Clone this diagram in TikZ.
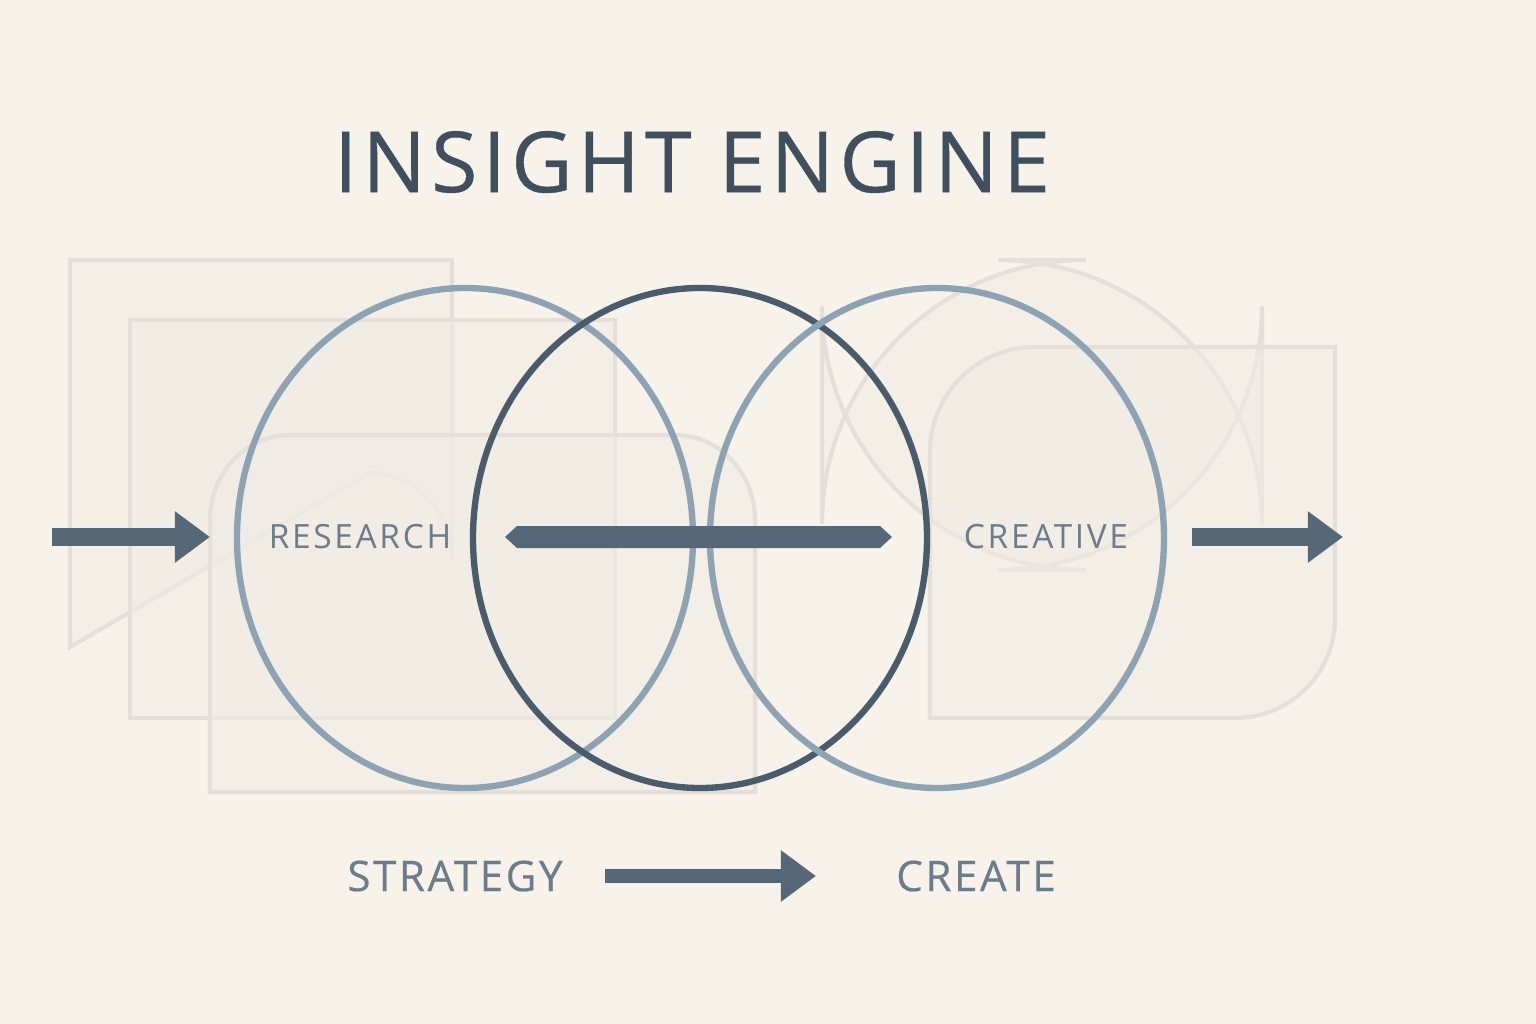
\documentclass[tikz,border=0pt]{standalone}
\usepackage{fontspec}
\setmainfont{Open Sans}
\newfontfamily\spaced[LetterSpace=8]{Open Sans}
\newfontfamily\spacedsemi[LetterSpace=6,FakeBold=0.4]{Open Sans}
\usetikzlibrary{arrows.meta}
\definecolor{bg}{HTML}{F7F2EA}
\definecolor{shp}{HTML}{E4DFD8}
\definecolor{shpf}{HTML}{F0EBE4}
\definecolor{ttl}{HTML}{3F4F5E}
\definecolor{lbl}{HTML}{6B7C8B}
\definecolor{arr}{HTML}{566878}
\definecolor{ringlight}{HTML}{8DA2B2}
\definecolor{ringdark}{HTML}{4A5B6B}
\begin{document}
\begin{tikzpicture}[x=0.01cm,y=-0.01cm,
  bgshape/.style={draw=shp,line width=1.2pt,fill=shpf,fill opacity=0.55},
  ring/.style={line width=1.8pt},
  flow/.style={draw=arr,line width=5pt,-{Triangle[length=10pt,width=14pt]}},
  lab/.style={text=lbl,font=\spaced\fontsize{9.5pt}{11pt}\selectfont,anchor=center}]
\fill[bg] (0,0) rectangle (1536,1024);
\useasboundingbox (0,0) rectangle (1536,1024);
% background shapes
\draw[bgshape] (70,260) -- (452,260) -- (452,560) arc[start angle=0,end angle=90,x radius=82,y radius=-87] -- (70,647) -- cycle;
\draw[bgshape] (130,320) rectangle (615,718);
\draw[bgshape] (290,435) -- (675,435) arc[start angle=90,end angle=0,x radius=80,y radius=-85] -- (755,792) -- (210,792) -- (210,520) arc[start angle=180,end angle=90,x radius=80,y radius=-85];
\draw[bgshape,rounded corners=75pt] (822,260) rectangle (1262,570);
\draw[bgshape] (1035,347) -- (1335,347) -- (1335,618) arc[start angle=0,end angle=-90,x radius=100,y radius=-100] -- (930,718) -- (930,452) arc[start angle=180,end angle=90,x radius=105,y radius=-105];
% circles
\draw[draw=ringlight,ring] (465,538) ellipse[x radius=228,y radius=250];
\draw[draw=ringdark,ring] (700,538) ellipse[x radius=227,y radius=250];
\draw[draw=ringlight,ring] (937,538) ellipse[x radius=227,y radius=250];
% center bar
\fill[fill=arr] (505,537) -- (517,526) -- (880,526) -- (892,537) -- (880,548) -- (517,548) -- cycle;
% texts
\node[text=ttl,font=\spacedsemi\fontsize{24pt}{28pt}\selectfont] (title) at (692,162) {INSIGHT ENGINE};
\node[lab] (research) at (360,537) {RESEARCH};
\node[lab] (creative) at (1046,537) {CREATIVE};
\node[lab,font=\spacedsemi\fontsize{12pt}{14pt}\selectfont] (strategy) at (455,876) {STRATEGY};
\node[lab,font=\spacedsemi\fontsize{12pt}{14pt}\selectfont] (create) at (976,876) {CREATE};
% arrows
\coordinate (a1) at (52,537); \coordinate (a2) at (210,537);
\coordinate (b1) at (1192,537); \coordinate (b2) at (1343,537);
\coordinate (c1) at (605,876); \coordinate (c2) at (816,876);
\draw[flow] (a1) -- (a2);
\draw[flow] (b1) -- (b2);
\draw[flow,line width=4pt] (c1) -- (c2);
\end{tikzpicture}
\end{document}
